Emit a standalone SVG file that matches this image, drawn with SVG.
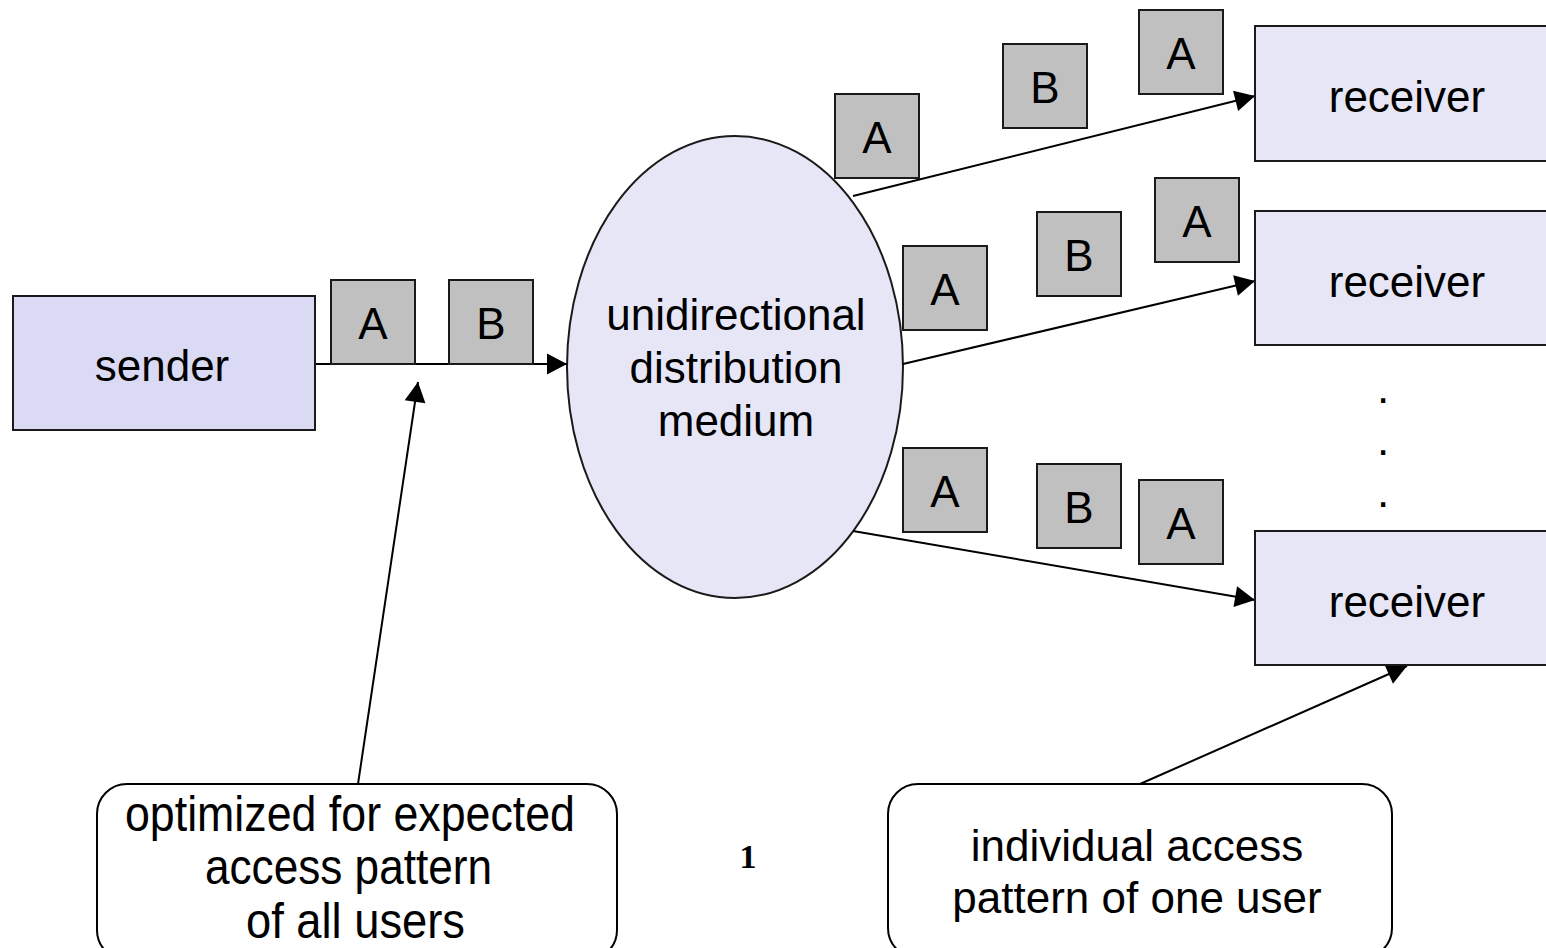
<svg xmlns="http://www.w3.org/2000/svg" width="1546" height="948" viewBox="0 0 1546 948">
<style>
text{font-family:"Liberation Sans",Arial,sans-serif;font-size:44px;fill:#000;text-anchor:middle}
.pk{fill:#c0c0c0;stroke:#1a1a1a;stroke-width:2}
.rx{fill:#e6e6f6;stroke:#1a1a1a;stroke-width:2}
.sx{fill:#dadaf4;stroke:#1a1a1a;stroke-width:2}
.co{fill:#fff;stroke:#000;stroke-width:2}
.ln{stroke:#000;stroke-width:2;fill:none;marker-end:url(#ah)}
.nar{font-size:50px;text-anchor:start}
</style>
<defs>
<marker id="ah" markerUnits="userSpaceOnUse" markerWidth="22" markerHeight="22" viewBox="0 -11 20 22" refX="20" refY="0" orient="auto">
<path d="M0,-10.5 L20,0 L0,10.5 z" fill="#000"/>
</marker>
<g id="pkA"><rect class="pk" x="0" y="0" width="84" height="84"/><text x="42" y="59">A</text></g>
<g id="pkB"><rect class="pk" x="0" y="0" width="84" height="84"/><text x="42" y="59">B</text></g>
</defs>
<rect width="1546" height="948" fill="#fff"/>
<g id="medium"><ellipse class="rx" cx="735" cy="367" rx="168" ry="231"/>
<text x="736" y="330">unidirectional</text><text x="736" y="383">distribution</text><text x="736" y="436">medium</text></g>
<g id="connectors">
<line class="ln" x1="315" y1="364" x2="567" y2="364"/>
<line class="ln" x1="853" y1="196" x2="1255" y2="96"/>
<line class="ln" x1="903" y1="364" x2="1255" y2="281"/>
<line class="ln" x1="853" y1="531" x2="1255" y2="600"/>
<line class="ln" x1="358" y1="784" x2="418" y2="382"/>
<line class="ln" x1="1140" y1="784" x2="1407" y2="666"/>
</g>
<g id="sender"><rect class="sx" x="13" y="296" width="302" height="134"/><text x="162" y="381">sender</text></g>
<g id="packets">
<use href="#pkA" x="331" y="280"/>
<use href="#pkB" x="449" y="280"/>
<use href="#pkA" x="835" y="94"/>
<use href="#pkB" x="1003" y="44"/>
<use href="#pkA" x="1139" y="10"/>
<use href="#pkA" x="903" y="246"/>
<use href="#pkB" x="1037" y="212"/>
<use href="#pkA" x="1155" y="178"/>
<use href="#pkA" x="903" y="448"/>
<use href="#pkB" x="1037" y="464"/>
<use href="#pkA" x="1139" y="480"/>
</g>
<g id="receiver1"><rect class="rx" x="1255" y="26" width="305" height="135"/><text x="1407" y="112">receiver</text></g>
<g id="receiver2"><rect class="rx" x="1255" y="211" width="305" height="134"/><text x="1407" y="297">receiver</text></g>
<g id="dots"><text x="1383" y="403">.</text><text x="1383" y="455">.</text><text x="1383" y="507">.</text></g>
<g id="receiver3"><rect class="rx" x="1255" y="531" width="305" height="134"/><text x="1407" y="617">receiver</text></g>
<g id="callout1"><rect class="co" x="97" y="784" width="520" height="176" rx="30"/>
<text class="nar" x="125" y="831" textLength="450" lengthAdjust="spacingAndGlyphs">optimized for expected</text>
<text class="nar" x="205" y="884" textLength="287" lengthAdjust="spacingAndGlyphs">access pattern</text>
<text class="nar" x="246" y="938" textLength="219" lengthAdjust="spacingAndGlyphs">of all users</text></g>
<g id="callout2"><rect class="co" x="888" y="784" width="504" height="174" rx="30"/>
<text x="1137" y="861">individual access</text><text x="1137" y="913">pattern of one user</text></g>
<text x="748" y="868" style="font-family:'Liberation Serif','Times New Roman',serif;font-weight:bold;font-size:34px">1</text>
</svg>
